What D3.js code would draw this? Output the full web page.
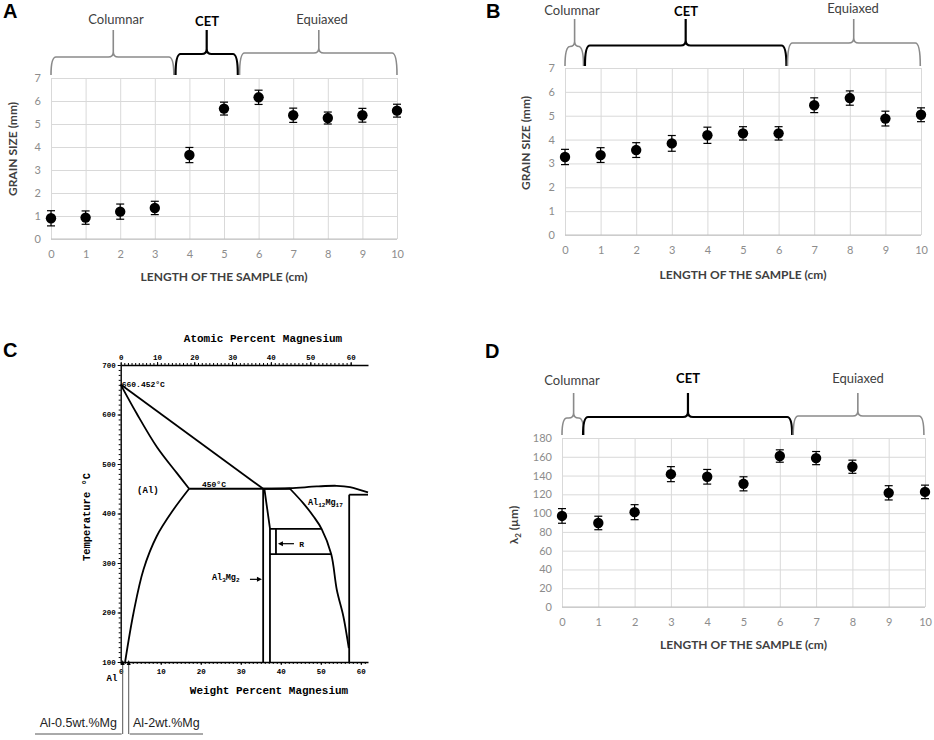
<!DOCTYPE html>
<html>
<head>
<meta charset="utf-8">
<script src="https://cdn.jsdelivr.net/npm/d3@7"></script>
<style>
  body { margin: 0; background: #fff; }
  svg { display: block; font-family: Lato, 'Open Sans', sans-serif; }
</style>
</head>
<body>
<div id="fig"></div>
<script>
// ---- data ----
const lengthCm = [0, 1, 2, 3, 4, 5, 6, 7, 8, 9, 10];

// panel A : grain size (mm)
const grainA    = [0.90, 0.93, 1.19, 1.35, 3.65, 5.67, 6.16, 5.38, 5.26, 5.38, 5.58];
const grainErrA = [0.33, 0.29, 0.33, 0.29, 0.33, 0.28, 0.31, 0.31, 0.26, 0.30, 0.28];

// panel B : grain size (mm)
const grainB    = [3.27, 3.35, 3.56, 3.84, 4.18, 4.26, 4.26, 5.44, 5.74, 4.88, 5.04];
const grainErrB = [0.32, 0.31, 0.31, 0.33, 0.34, 0.28, 0.28, 0.31, 0.30, 0.31, 0.29];

// panel D : secondary dendrite arm spacing (um)
const lambdaD    = [97, 89.5, 101, 141.5, 138.7, 131.2, 160.8, 158.6, 149.4, 121.6, 122.6];
const lambdaErrD = [7.8, 7.2, 8, 8, 7.8, 7.5, 6.6, 7, 7, 7.6, 7.2];

// zone braces: [start, tip, end] in cm
const zoneNames = ['Columnar', 'CET', 'Equiaxed'];
const zonesA = [[0, 1.8, 3.55], [3.6, 4.5, 5.4], [5.45, 7.74, 10]];
const zonesB = [[0, 0.27, 0.52], [0.56, 3.39, 6.22], [6.25, 8.11, 9.98]];
const zonesD = [[0, 0.32, 0.6], [0.58, 3.47, 6.34], [6.37, 8.15, 9.97]];

// panel C : Al-Mg phase diagram, [wt% Mg, temperature C]
const liquidusAl    = [[0, 660.452], [35.6, 450]];
const solidusAl     = [[0, 660.452], [4.0, 602], [9.0, 535], [14, 482], [17.1, 450]];
const solvusAl      = [[17.1, 450], [13.2, 408], [9.0, 354], [5.7, 287], [3.2, 199], [1.1, 100]];
const eutecticLine  = [[17.1, 450], [42.3, 450]];
const betaLeft      = [[35.6, 450], [35.6, 100]];
const betaRight     = [[35.9, 450], [37.3, 370], [37.3, 100]];
const liquidusGamma = [[35.6, 450], [42.3, 451], [49, 454.6], [54, 456], [57.3, 453.4], [61.8, 442.5]];
const gammaLeft     = [[42.3, 450], [45.6, 421], [48.2, 394], [50.2, 369], [52.6, 318], [54, 246], [55.65, 192], [56.65, 146], [57.0, 128]];
const gammaRight    = [[57.1, 100], [57.1, 438]];
const eutectic2     = [[57.1, 438], [61.8, 438]];
const rTop          = [[37.3, 369], [50.2, 369]];
const rBottom       = [[37.3, 318], [52.6, 318]];
const rSide         = [[38.8, 318], [38.8, 369]];
const wtTicks = [0, 10, 20, 30, 40, 50, 60];
const atTicks = [0, 10, 20, 30, 40, 50, 60];
const tempTicks = [100, 200, 300, 400, 500, 600, 700];
const alloys = [0.5, 2];
const alloyLabels = ['Al-0.5wt.%Mg', 'Al-2wt.%Mg'];

const svg = d3.select('#fig').append('svg')
  .attr('width', 934)
  .attr('height', 740);
svg.append('rect').attr('width', 934).attr('height', 740).attr('fill', '#fff');

/**
 * Draws one of the Excel-like scatter panels with error bars and zone braces.
 */
function drawErrorPanel(cfg) {
  const x = d3.scaleLinear().domain([0, 10]).range([cfg.left, cfg.right]);
  const y = d3.scaleLinear().domain([0, cfg.yMax]).range([cfg.bottom, cfg.top]);
  const w = cfg.right - cfg.left;
  const h = cfg.bottom - cfg.top;
  const g = svg.append('g');

  // Grid + tick labels
  const xAxis = g.append('g')
    .attr('transform', `translate(0,${cfg.bottom})`)
    .call(d3.axisBottom(x).tickValues(lengthCm).tickFormat(d3.format('d')).tickSize(-h).tickPadding(11));
  const yAxis = g.append('g')
    .attr('transform', `translate(${cfg.left},0)`)
    .call(d3.axisLeft(y).tickValues(d3.range(0, cfg.yMax + 1, cfg.yStep)).tickFormat(d3.format('d')).tickSize(-w).tickPadding(10));
  [xAxis, yAxis].forEach(a => {
    a.select('.domain').remove();
    a.selectAll('line').attr('stroke', '#d9d9d9').attr('stroke-width', 1);
    a.selectAll('text').attr('fill', '#8c8c8c').style('font-size', '11px').style('font-family', 'Lato, sans-serif');
  });
  g.append('line')
    .attr('x1', cfg.left).attr('x2', cfg.right)
    .attr('y1', cfg.bottom).attr('y2', cfg.bottom)
    .attr('stroke', '#bfbfbf');

  // Axis titles
  g.append('text')
    .attr('x', (cfg.left + cfg.right) / 2)
    .attr('y', cfg.bottom + cfg.xTitleDy)
    .attr('text-anchor', 'middle')
    .attr('font-weight', 'bold')
    .attr('font-size', 12)
    .attr('fill', '#404040')
    .text('LENGTH OF THE SAMPLE (cm)');
  const yt = g.append('text')
    .attr('transform', `translate(${cfg.left - cfg.yTitleDx},${cfg.yTitleY}) rotate(-90)`)
    .attr('text-anchor', 'middle')
    .attr('dy', '0.35em')
    .attr('font-weight', 'bold')
    .attr('font-size', 12)
    .attr('fill', '#404040');
  if (cfg.lambda) {
    yt.append('tspan').text('λ');
    yt.append('tspan').attr('font-size', 8).attr('dy', 3).text('2');
    yt.append('tspan').attr('dy', -3).text(' (µm)');
  } else {
    yt.text('GRAIN SIZE (mm)');
  }

  // Error bars
  const pts = g.append('g');
  cfg.values.forEach((v, i) => {
    const cx = x(lengthCm[i]);
    const e = cfg.errs[i];
    pts.append('line')
      .attr('x1', cx).attr('x2', cx)
      .attr('y1', y(v - e)).attr('y2', y(v + e))
      .attr('stroke', '#000').attr('stroke-width', 1.2);
    [v - e, v + e].forEach(t => {
      pts.append('line')
        .attr('x1', cx - 4).attr('x2', cx + 4)
        .attr('y1', y(t)).attr('y2', y(t))
        .attr('stroke', '#000').attr('stroke-width', 1.2);
    });
  });
  pts.selectAll('circle')
    .data(cfg.values)
    .join('circle')
      .attr('cx', (d, i) => x(lengthCm[i]))
      .attr('cy', d => y(d))
      .attr('r', 5.2)
      .attr('fill', '#000');

  // Zone braces
  cfg.zones.forEach((z, i) => {
    const x0 = x(z[0]), xm = x(z[1]), x1 = x(z[2]);
    const yl = cfg.braceLine[i], yb = cfg.braceEnd, yt2 = cfg.braceTip;
    const r = 5;
    const d = `M${x0},${yb} Q${x0},${yl} ${x0 + r},${yl} L${xm - r},${yl} Q${xm},${yl} ${xm},${yl - r} L${xm},${yt2}` +
              ` M${xm},${yl - r} Q${xm},${yl} ${xm + r},${yl} L${x1 - r},${yl} Q${x1},${yl} ${x1},${yb}`;
    const isCet = zoneNames[i] === 'CET';
    g.append('path')
      .attr('d', d)
      .attr('fill', 'none')
      .attr('stroke', isCet ? '#000' : '#8a8a8a')
      .attr('stroke-width', isCet ? 2.2 : 1.6);
    g.append('text')
      .attr('x', cfg.labelX[i])
      .attr('y', cfg.labelY[i])
      .attr('text-anchor', 'middle')
      .attr('font-size', 13)
      .attr('font-weight', isCet ? 'bold' : 'normal')
      .attr('fill', isCet ? '#000' : '#404040')
      .text(zoneNames[i]);
  });

  // Panel letter
  svg.append('text')
    .attr('x', cfg.letterX).attr('y', cfg.letterY)
    .attr('font-family', 'Liberation Sans, Arial, sans-serif')
    .attr('font-weight', 'bold')
    .attr('font-size', 20)
    .text(cfg.letter);
}

/**
 * Draws the Al-Mg equilibrium phase diagram (panel C).
 */
function drawPhaseDiagram() {
  const x = d3.scaleLinear().domain([0, 61.8]).range([120.7, 368]);
  const y = d3.scaleLinear().domain([100, 700]).range([662, 365]);
  const atToWt = a => 100 * a * 24.305 / (a * 24.305 + (100 - a) * 26.982);
  const mono = 'Liberation Mono, Courier New, monospace';
  const g = svg.append('g');

  const styleAxis = (a, size) => {
    a.select('.domain').attr('stroke', '#000').attr('stroke-width', 1.4);
    a.selectAll('line').attr('stroke', '#000').attr('stroke-width', 1);
    a.selectAll('text').style('font-family', mono).style('font-weight', 'bold').style('font-size', size + 'px').attr('fill', '#000');
  };

  // Minor ticks
  g.append('g').attr('transform', 'translate(0,662)')
    .call(d3.axisBottom(x).tickValues(d3.range(0, 62, 1)).tickSize(2).tickFormat(''))
    .call(a => { a.select('.domain').remove(); a.selectAll('line').attr('stroke', '#000'); });
  g.append('g').attr('transform', 'translate(0,365)')
    .call(d3.axisTop(x).tickValues(d3.range(0, 61, 1).map(atToWt)).tickSize(2).tickFormat(''))
    .call(a => { a.select('.domain').remove(); a.selectAll('line').attr('stroke', '#000'); });
  g.append('g').attr('transform', 'translate(120.7,0)')
    .call(d3.axisLeft(y).tickValues(d3.range(100, 701, 10)).tickSize(2).tickFormat(''))
    .call(a => { a.select('.domain').remove(); a.selectAll('line').attr('stroke', '#000'); });

  // Major axes
  const bottom = g.append('g').attr('transform', 'translate(0,662)')
    .call(d3.axisBottom(x).tickValues(wtTicks).tickSize(3).tickPadding(4).tickSizeOuter(0));
  styleAxis(bottom, 7.5);
  const top = g.append('g').attr('transform', 'translate(0,365)')
    .call(d3.axisTop(x).tickValues(atTicks.map(atToWt)).tickFormat((d, i) => atTicks[i]).tickSize(3).tickPadding(2).tickSizeOuter(0));
  styleAxis(top, 7.5);
  const left = g.append('g').attr('transform', 'translate(120.7,0)')
    .call(d3.axisLeft(y).tickValues(tempTicks).tickSize(3).tickPadding(2).tickSizeOuter(0));
  styleAxis(left, 7.5);

  // Axis titles
  g.append('text').attr('x', 263).attr('y', 342).attr('text-anchor', 'middle')
    .attr('font-family', mono).attr('font-weight', 'bold').attr('font-size', 11)
    .text('Atomic Percent Magnesium');
  g.append('text').attr('x', 269).attr('y', 694).attr('text-anchor', 'middle')
    .attr('font-family', mono).attr('font-weight', 'bold').attr('font-size', 11)
    .text('Weight Percent Magnesium');
  g.append('text').attr('transform', 'translate(90,517) rotate(-90)').attr('text-anchor', 'middle')
    .attr('font-family', mono).attr('font-weight', 'bold').attr('font-size', 10.5)
    .text('Temperature °C');
  g.append('text').attr('x', 112).attr('y', 681).attr('text-anchor', 'middle')
    .attr('font-family', mono).attr('font-weight', 'bold').attr('font-size', 9)
    .text('Al');

  // Phase boundaries
  const straight = d3.line().x(d => x(d[0])).y(d => y(d[1]));
  const smooth = d3.line().x(d => x(d[0])).y(d => y(d[1])).curve(d3.curveCatmullRom);
  const curves = [
    [liquidusAl, straight], [solidusAl, smooth], [solvusAl, smooth], [eutecticLine, straight],
    [betaLeft, straight], [betaRight, straight], [liquidusGamma, smooth], [gammaLeft, smooth],
    [gammaRight, straight], [eutectic2, straight], [rTop, straight], [rBottom, straight], [rSide, straight]
  ];
  curves.forEach(([pts, gen]) => {
    g.append('path')
      .attr('d', gen(pts))
      .attr('fill', 'none')
      .attr('stroke', '#000')
      .attr('stroke-width', 1.8)
      .attr('stroke-linejoin', 'round');
  });

  // Labels inside the diagram
  const lab = (tx, ty, size) => g.append('text').attr('x', tx).attr('y', ty)
    .attr('font-family', mono).attr('font-weight', 'bold').attr('font-size', size);
  lab(x(0) + 1, y(660.452) + 2, 8).text('660.452°C');
  lab(x(20.3), y(450) - 2, 8).text('450°C');
  lab(x(4.1), y(442), 9).text('(Al)');
  const g12 = lab(x(46.8), y(418), 8.5);
  g12.append('tspan').text('Al');
  g12.append('tspan').attr('font-size', 6).attr('dy', 2).text('12');
  g12.append('tspan').attr('dy', -2).text('Mg');
  g12.append('tspan').attr('font-size', 6).attr('dy', 2).text('17');
  const g32 = lab(x(22.8), y(265), 8.5);
  g32.append('tspan').text('Al');
  g32.append('tspan').attr('font-size', 6).attr('dy', 2).text('3');
  g32.append('tspan').attr('dy', -2).text('Mg');
  g32.append('tspan').attr('font-size', 6).attr('dy', 2).text('2');
  lab(x(44.6), y(339) + 3, 8).text('R');

  // Arrows: tail at xa, head at xb
  const arrow = (xa, xb, yy) => {
    const dir = xb > xa ? -1 : 1;
    g.append('line').attr('x1', xa).attr('x2', xb + dir * 4).attr('y1', yy).attr('y2', yy)
      .attr('stroke', '#000').attr('stroke-width', 1.2);
    g.append('path').attr('d', `M${xb},${yy} l${dir * 5},-2.5 l0,5 Z`).attr('fill', '#000');
  };
  arrow(x(43.3), x(39.3), y(339));
  arrow(x(32.3), x(35.3), y(267));

  // Alloy composition markers
  alloys.forEach((c, i) => {
    const cx = x(c);
    g.append('line').attr('x1', cx).attr('x2', cx).attr('y1', 663).attr('y2', 734)
      .attr('stroke', '#555').attr('stroke-width', 1);
    g.append('path').attr('d', `M${cx},${660} l-2,5 l4,0 Z`).attr('fill', '#000');
    const xa = i === 0 ? 35 : cx + 1;
    const xb = i === 0 ? cx - 1 : 203;
    g.append('line').attr('x1', xa).attr('x2', xb).attr('y1', 734).attr('y2', 734)
      .attr('stroke', '#555').attr('stroke-width', 1);
    g.append('text').attr('x', (xa + xb) / 2).attr('y', 727)
      .attr('text-anchor', 'middle')
      .attr('font-family', 'Liberation Sans, Arial, sans-serif')
      .attr('font-size', 12.5)
      .attr('fill', '#222')
      .text(alloyLabels[i]);
  });

  svg.append('text')
    .attr('x', 3).attr('y', 357)
    .attr('font-family', 'Liberation Sans, Arial, sans-serif')
    .attr('font-weight', 'bold')
    .attr('font-size', 20)
    .text('C');
}

drawErrorPanel({
  letter: 'A', letterX: 3, letterY: 18,
  left: 51, right: 397, top: 78, bottom: 239,
  yMax: 7, yStep: 1, values: grainA, errs: grainErrA,
  xTitleDy: 42, yTitleDx: 38, yTitleY: 149,
  zones: zonesA, braceLine: [57, 54, 53], braceEnd: 75, braceTip: 30,
  labelY: [24, 26, 24], labelX: [116, 207, 322]
});

drawErrorPanel({
  letter: 'B', letterX: 486, letterY: 18,
  left: 565, right: 921, top: 68, bottom: 235,
  yMax: 7, yStep: 1, values: grainB, errs: grainErrB,
  xTitleDy: 44, yTitleDx: 39, yTitleY: 143,
  zones: zonesB, braceLine: [46.5, 45.5, 43], braceEnd: 66, braceTip: 19,
  labelY: [15, 16, 13], labelX: [572, 686, 853]
});

drawErrorPanel({
  letter: 'D', letterX: 485, letterY: 358,
  left: 562, right: 925, top: 438, bottom: 607,
  yMax: 180, yStep: 20, values: lambdaD, errs: lambdaErrD,
  xTitleDy: 42, yTitleDx: 48, yTitleY: 525, lambda: true,
  zones: zonesD, braceLine: [418, 417, 416], braceEnd: 435, braceTip: 393,
  labelY: [385, 383, 383], labelX: [572, 688, 858]
});

drawPhaseDiagram();
</script>
</body>
</html>
